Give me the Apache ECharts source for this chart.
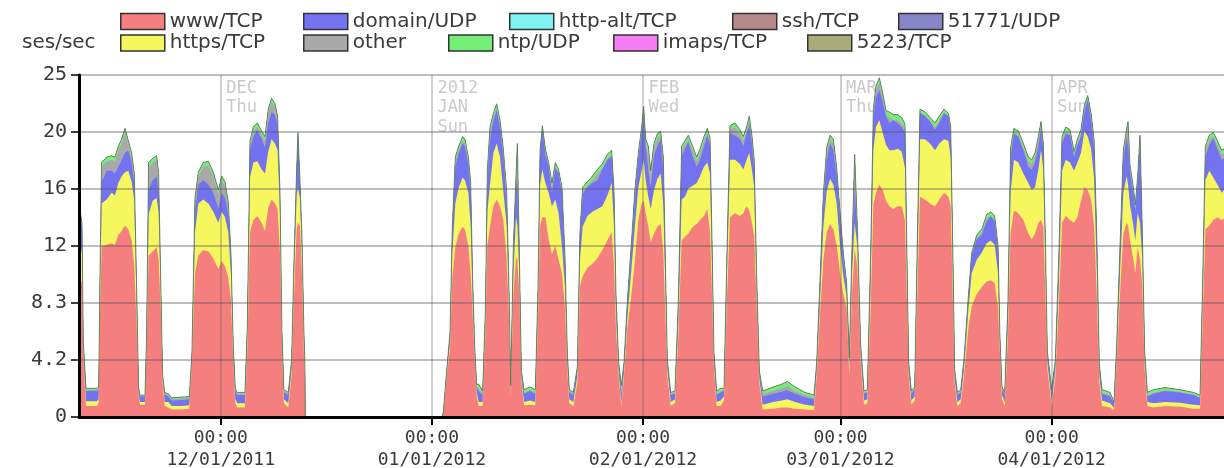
<!DOCTYPE html>
<html><head><meta charset="utf-8">
<script src="https://cdn.jsdelivr.net/npm/echarts@6/dist/echarts.min.js"></script>
<style>html,body{margin:0;padding:0;background:#fff}#c{width:1224px;height:468px}</style>
</head><body><div id="c"></div>
<script>
// x values: days since 2011-12-01 00:00
const days = [
-20.82,-20.38,-20.19,-19.8,-18.23,-17.93,-17.75,-17.5,-16.76,-16.03,
-15.54,-15.05,-14.56,-14.07,-13.58,-13.09,-12.7,-12.36,-12.07,-11.87,
-11.13,-10.89,-10.6,-10.01,-9.42,-9.13,-8.83,-8.54,-8.24,-7.7,
-7.21,-5.75,-4.62,-4.23,-3.79,-3.3,-2.57,-1.83,-1.1,-0.36,
0.13,0.62,1.1,1.49,1.84,2.13,2.42,3.55,3.9,4.29,
4.78,5.36,6.0,6.49,6.97,7.46,7.95,8.34,8.69,8.98,
9.27,9.91,10.4,10.74,11.13,11.33,11.62,11.92,12.21,12.35,
12.42,32.5,32.68,33.17,33.66,34.0,34.44,34.93,35.52,35.86,
36.35,36.69,36.99,37.28,37.57,37.87,38.45,38.85,39.14,39.53,
40.02,40.51,41.0,41.49,41.98,42.37,42.57,42.96,43.35,43.55,
43.84,44.14,44.53,45.41,46.19,46.58,46.88,47.22,47.66,48.14,
48.63,49.12,49.6,50.1,50.54,50.88,51.18,51.77,52.36,52.74,
53.14,53.83,54.56,55.3,56.03,56.76,57.4,57.74,58.03,58.42,
58.81,59.21,59.7,60.33,60.82,61.31,61.8,62.1,62.39,62.78,
63.13,63.61,64.1,64.59,64.98,65.28,65.57,66.06,66.69,67.19,
67.67,68.16,68.65,69.29,69.88,70.37,70.95,71.44,71.84,72.13,
72.42,72.81,73.4,73.89,74.28,74.77,75.51,76.23,76.73,77.21,
77.6,77.99,78.33,78.68,79.08,79.57,81.13,82.35,83.19,84.33,
85.79,87.11,87.5,87.99,88.48,88.97,89.46,89.95,90.44,90.93,
91.41,91.9,92.29,92.69,93.08,93.47,93.96,94.45,94.94,95.43,
95.82,96.21,96.7,97.19,97.68,98.17,98.76,99.39,99.98,100.47,
100.72,101.0,101.4,101.89,102.28,102.67,103.41,104.14,104.88,105.51,
106.2,106.84,107.18,107.47,107.76,108.16,108.65,109.14,109.77,110.26,
111.0,111.73,112.46,113.05,113.64,114.13,114.42,114.71,115.11,115.59,
115.98,116.47,117.11,117.85,118.58,119.07,119.56,120.05,120.44,120.78,
121.08,121.37,122.01,122.55,123.04,123.53,124.07,124.7,125.29,125.78,
126.31,126.81,127.3,127.79,128.23,128.62,129.01,129.4,130.58,131.16,
131.55,132.04,132.53,133.02,133.22,133.51,134.0,134.29,134.63,134.98,
135.32,135.66,136.06,136.94,138.65,140.85,142.81,143.79,144.18,144.57,
145.16,145.75,146.33,146.97,147.31
];
const wwwTCP = [
10.3,9.8,4.5,0.8,0.8,1.0,7,12.5,12.6,12.7,
12.6,13.3,13.6,14.0,13.7,12.9,11.0,6.6,1.5,0.9,
0.9,5.0,11.8,12.1,12.4,11.5,8.0,2.5,0.8,0.7,
0.55,0.55,0.6,4.0,10.5,11.8,12.2,12.1,11.6,10.8,
11.4,11.0,10.2,8.5,4.0,1.0,0.7,0.7,5.0,13.5,
14.4,14.7,14.2,13.6,15.3,15.9,15.6,15.2,12.0,5.0,
1.0,0.7,3.0,8.5,13.7,14.2,14.0,10.3,4.5,3.0,
0,0,0.3,2.9,5.0,10.2,12.4,13.4,13.9,13.7,
12.5,10.5,7.5,4.3,1.5,0.8,0.8,6.0,12.5,13.9,
15.4,15.9,15.4,14.4,11.5,6.5,1.5,9.0,11.7,11.5,
9.0,2.5,0.85,0.9,0.85,7.0,14.0,14.6,14.6,13.0,
11.9,12.5,11.5,10.5,8.0,3.5,1.0,0.8,2.5,9.5,
10.3,10.9,11.2,11.6,12.2,12.9,13.5,11.0,6.5,3.0,
0.8,3.0,6.5,9.1,11.5,14.4,15.6,15.8,14.9,13.9,
12.8,13.4,13.9,14.1,12.0,7.5,3.0,0.8,1.0,6.0,
12.9,13.2,13.4,13.9,14.1,14.4,14.7,15.2,13.5,9.0,
3.5,0.8,0.8,1.2,8.0,14.6,14.9,14.7,14.9,15.4,
15.1,14.2,13.2,8.0,2.5,0.55,0.6,0.7,0.7,0.6,
0.55,0.5,3.0,7.5,11.5,13.5,14.1,13.7,12.5,10.5,
9.0,8.0,3.0,9.0,12.3,11.0,4.0,0.9,1.0,8.0,
15.5,16.4,17.0,16.6,15.8,15.4,15.2,15.4,15.4,14.4,
9.0,3.0,0.9,1.2,9.0,16.1,15.9,15.6,15.4,15.9,
16.4,16.1,15.4,9.0,2.5,0.8,1.0,3.0,6.5,8.1,
9.0,9.5,9.9,10.0,9.8,8.0,4.5,1.3,0.8,6.0,
13.5,15.1,14.9,14.4,13.4,13.0,13.4,14.2,14.4,13.9,
9.0,3.5,0.8,3.0,8.0,14.2,14.7,14.4,14.2,14.6,
15.8,16.8,16.6,15.9,14.0,9.0,2.5,0.8,0.7,0.5,
4.0,9.0,13.4,14.2,14.0,12.9,11.5,10.5,12.4,11.5,
9.5,3.5,0.8,0.7,0.8,0.75,0.6,0.6,7.0,13.7,
14.0,14.4,14.6,14.4,14.5
];
const httpsTCP = [
2.7,2.2,0.5,0.35,0.35,0.3,1.5,3.1,3.3,3.7,
3.6,3.8,4.0,3.9,4.3,4.3,4.8,1.4,0.2,0.2,
0.2,0.5,3.0,3.7,3.6,3.5,1.5,0.3,0.3,0.4,
0.25,0.25,0.25,0.3,3.0,3.8,3.7,3.5,3.4,3.4,
3.6,3.6,3.3,2.0,0.5,0.3,0.3,0.3,1.0,4.0,
4.2,4.0,3.9,4.2,4.1,4.4,4.4,4.3,3.0,0.5,
0.3,0.3,0.5,1.5,2.5,2.6,2.0,1.7,1.0,0.5,
0,0,0,0.2,0.5,1.8,3.2,3.4,3.6,3.6,
3.9,3.5,1.0,0.3,0.3,0.3,0.3,1.0,2.5,3.1,
3.9,4.1,3.6,2.1,2.5,1.0,0.3,1.5,2.9,2.5,
1.5,0.3,0.25,0.3,0.25,1.0,3.0,3.5,2.5,3.4,
3.5,3.4,3.4,2.0,1.5,0.5,0.3,0.3,0.5,2.0,
3.6,3.8,3.8,3.6,3.2,3.3,3.6,3.0,1.0,0.3,
0.2,0.3,0.7,1.9,2.5,2.4,2.4,3.0,2.4,2.2,
2.4,3.2,3.5,3.7,3.5,2.0,0.5,0.3,0.3,1.0,
3.0,2.9,3.3,3.0,3.0,3.2,3.6,3.4,4.3,2.0,
0.5,0.3,0.4,0.3,1.5,4.2,3.9,3.8,3.2,3.4,
4.2,3.9,3.6,1.0,0.3,0.35,0.5,0.5,0.6,0.5,
0.35,0.3,0.4,1.0,2.4,3.0,3.3,3.3,3.1,2.0,
1.3,0.8,0.5,1.5,1.9,1.5,0.5,0.3,0.3,2.0,
4.0,4.8,4.7,4.2,4.1,4.1,4.3,4.2,4.0,3.8,
2.0,0.4,0.3,0.3,2.0,4.2,4.4,4.4,4.1,4.1,
3.9,4.1,3.6,2.0,0.3,0.3,0.3,0.5,1.3,2.4,
2.5,2.5,2.8,2.9,2.8,2.5,0.5,0.3,0.3,1.0,
3.0,3.7,3.7,3.4,3.7,3.6,3.4,3.9,5.1,4.2,
2.0,0.5,0.3,0.4,1.5,3.8,4.1,4.2,3.8,4.0,
3.5,4.1,3.9,3.7,3.5,2.0,0.5,0.4,0.3,0.2,
0.5,1.5,3.0,3.4,3.0,2.6,2.5,2.4,2.5,2.7,
2.0,0.5,0.3,0.3,0.3,0.3,0.3,0.25,1.5,3.6,
4.0,3.1,2.4,2.0,2.1
];
const domainUDP = [
2.4,2.0,0.5,0.75,0.75,0.7,0.8,1.6,2.1,1.6,
1.6,1.2,1.2,1.4,1.5,1.4,1.2,1.0,0.3,0.4,
0.4,0.5,1.8,1.5,1.6,1.5,0.5,0.2,0.5,0.4,
0.4,0.45,0.45,0.3,1.5,1.4,1.4,1.4,1.4,1.0,
1.4,1.4,1.3,1.0,0.5,0.6,0.6,0.6,0.5,2.0,
1.9,2.3,2.2,1.9,2.1,2.0,2.1,1.8,1.0,0.5,
0.5,0.6,0.5,1.0,1.3,3.7,1.0,0.8,0.5,0.5,
0,0,0.05,0.2,0.5,1.5,2.7,2.5,2.5,2.5,
2.0,2.2,1.0,0.4,0.4,0.8,0.5,0.5,2.0,3.2,
2.4,2.4,2.2,2.5,1.4,0.5,0.3,1.5,2.6,2.5,
1.0,0.4,0.6,0.7,0.6,1.0,2.0,2.9,2.1,1.9,
1.0,2.3,2.9,3.9,1.5,0.5,0.5,0.5,0.5,1.5,
2.4,2.1,2.1,2.1,2.7,2.6,1.9,2.0,1.0,0.5,
0.6,0.5,0.8,1.5,2.0,2.0,2.7,3.1,2.5,1.9,
1.6,2.5,2.4,2.5,2.5,1.5,0.5,0.5,0.4,1.0,
3.1,3.5,3.4,2.1,1.2,1.2,1.5,2.0,2.0,1.5,
0.5,0.5,0.6,0.4,1.0,1.9,1.8,1.8,1.7,1.9,
2.0,1.9,1.2,1.0,0.4,0.6,0.6,0.65,0.65,0.6,
0.55,0.5,0.4,1.0,1.6,2.2,2.6,2.5,2.0,2.0,
1.2,0.7,0.5,1.5,2.3,1.0,0.5,0.5,0.5,1.5,
2.3,2.2,2.2,2.2,2.1,2.0,2.2,1.9,1.8,2.6,
1.5,0.5,0.5,0.5,1.5,1.9,1.7,1.6,1.5,1.5,
1.9,1.8,1.8,1.5,0.5,0.5,0.5,0.5,0.7,1.3,
1.5,1.3,1.6,1.8,1.7,1.5,0.5,0.4,0.5,1.0,
2.5,1.9,1.9,1.7,1.2,1.5,1.8,1.7,1.6,1.4,
1.5,0.5,0.6,0.6,1.5,2.0,1.9,2.0,1.0,1.3,
1.2,1.4,2.7,2.1,2.1,2.0,0.5,0.5,0.5,0.3,
0.5,1.5,2.4,2.9,2.8,2.3,2.3,2.1,2.1,5.6,
1.5,0.5,0.4,0.7,0.8,0.75,0.7,0.55,1.0,1.7,
1.9,2.9,2.6,2.4,2.3
];
const otherTraffic = [
0.1,0.1,0.05,0.1,0.1,0.1,0.5,1.1,0.7,0.8,
0.9,1.2,1.2,1.5,0.4,0.4,0.5,0.3,0.1,0.05,
0.05,0.1,1.7,1.3,1.2,1.0,0.2,0.05,0.1,0.1,
0.1,0.1,0.1,0.1,0.8,0.6,1.0,1.4,1.2,1.1,
0.9,0.9,0.6,0.3,0.1,0.1,0.1,0.1,0.2,0.5,
0.4,0.2,0.3,0.5,0.7,0.7,0.5,0.4,0.3,0.2,
0.1,0.1,0.1,0.2,0.3,0.1,0.2,0.2,0.1,0.05,
0,0,0,0.05,0.1,0.3,0.4,0.2,0.2,0.2,
0.3,0.7,0.3,0.1,0.1,0.2,0.1,0.1,0.7,0.7,
0.2,0.2,0.2,0.3,0.8,0.1,0.1,0.3,0.1,3.2,
0.3,0.1,0.1,0.1,0.1,0.3,0.2,0.1,0.1,0.1,
0.4,0.1,0.1,0.1,0.5,0.1,0.1,0.1,0.1,0.3,
0.2,0.1,0.2,0.5,0.1,0.1,0.2,0.2,0.3,0.1,
0.4,0.1,0.3,0.3,0.4,0.2,0.2,0.5,0.2,1.2,
0.8,0.5,0.6,0.3,0.7,0.3,0.1,0.1,0.1,0.3,
0.5,0.3,0.2,0.5,0.4,0.5,0.4,0.2,0.3,0.3,
0.1,0.1,0.1,0.1,0.3,0.3,0.6,0.4,0.4,0.2,
0.4,0.3,0.5,0.3,0.1,0.2,0.2,0.25,0.3,0.2,
0.15,0.1,0.1,0.3,0.5,0.7,0.3,0.5,0.3,0.2,
0.3,0.1,0.1,0.3,2.4,0.3,0.1,0.1,0.1,0.3,
0.4,0.5,0.6,0.4,0.1,0.4,0.05,0.2,0.3,0.3,
0.3,0.1,0.1,0.1,0.3,0.05,0.05,0.05,0.2,0.2,
0.05,0,0.1,0.3,0.1,0.1,0.1,0.1,0.1,0,
0.1,0.2,0.2,0,0.1,0.3,0.1,0.1,0.1,0.3,
0.4,0.1,0.1,0.2,0.4,0.4,0.4,0.4,0.2,0.2,
0.3,0.1,0.1,0.1,0.3,0.2,0.2,0.1,0.1,0.1,
0.2,0.2,0.05,0.2,0.4,0.3,0.1,0.1,0.1,0.05,
0.1,0.3,0.4,0.3,1.5,0.3,0.2,0.2,0.3,0.5,
0.3,0.1,0.1,0.1,0.05,0.05,0.05,0.05,0.3,0.5,
0.4,0.1,0.3,0.4,0.4
];
const ntpUDP = [
0.1,0.1,0.05,0.1,0.1,0.1,0.2,0.3,0.3,0.3,
0.3,0.3,0.3,0.3,0.3,0.3,0.3,0.2,0.1,0.05,
0.05,0.1,0.3,0.3,0.3,0.3,0.1,0.05,0.1,0.1,
0.1,0.1,0.1,0.1,0.2,0.3,0.3,0.3,0.3,0.3,
0.3,0.3,0.3,0.2,0.1,0.1,0.1,0.1,0.1,0.2,
0.3,0.3,0.3,0.3,0.3,0.3,0.3,0.3,0.2,0.1,
0.1,0.1,0.1,0.1,0.2,0.2,0.2,0.2,0.1,0.05,
0,0,0.05,0.05,0.1,0.2,0.3,0.3,0.3,0.3,
0.3,0.3,0.2,0.1,0.1,0.3,0.2,0.2,0.3,0.3,
0.3,0.3,0.3,0.3,0.3,0.2,0.1,0.2,0.3,0.3,
0.2,0.1,0.2,0.2,0.2,0.2,0.3,0.2,0.3,0.2,
0.3,0.3,0.2,0.3,0.3,0.2,0.1,0.1,0.1,0.2,
0.3,0.3,0.3,0.3,0.3,0.3,0.3,0.3,0.2,0.1,
0.3,0.1,0.2,0.2,0.3,0.3,0.3,0.3,0.3,0.6,
0.4,0.4,0.3,0.3,0.3,0.2,0.1,0.1,0.1,0.2,
0.3,0.3,0.3,0.3,0.3,0.3,0.3,0.3,0.3,0.2,
0.1,0.2,0.2,0.1,0.2,0.3,0.3,0.3,0.3,0.3,
0.3,0.3,0.3,0.2,0.1,0.2,0.3,0.3,0.35,0.3,
0.2,0.2,0.1,0.2,0.3,0.3,0.3,0.3,0.3,0.3,
0.2,0.2,0.2,0.2,0.3,0.2,0.2,0.1,0.1,0.2,
0.3,0.3,0.3,0.3,0.3,0.4,0.35,0.4,0.4,0.3,
0.2,0.1,0.1,0.1,0.2,0.25,0.25,0.25,0.3,0.3,
0.25,0.2,0.3,0.2,0.1,0.1,0.1,0.2,0.2,0.2,
0.2,0.2,0.3,0.3,0.3,0.2,0.2,0.1,0.1,0.2,
0.3,0.3,0.3,0.3,0.3,0.3,0.3,0.3,0.3,0.3,
0.2,0.2,0.2,0.1,0.2,0.3,0.3,0.3,0.3,0.3,
0.3,0.3,0.25,0.3,0.3,0.2,0.2,0.2,0.2,0.05,
0.2,0.2,0.3,0.3,0.3,0.3,0.3,0.3,0.3,0.3,
0.2,0.2,0.2,0.2,0.2,0.15,0.15,0.15,0.2,0.3,
0.3,0.3,0.3,0.3,0.3
];
// the remaining five services are too thin to see in the picture: read as ~0 everywhere
const minorServicesNearZero = [
0,0,0,0,0,0,0,0,0,0, 0,0,0,0,0,0,0,0,0,0, 0,0,0,0,0,0,0,0,0,0,
0,0,0,0,0,0,0,0,0,0, 0,0,0,0,0,0,0,0,0,0, 0,0,0,0,0,0,0,0,0,0,
0,0,0,0,0,0,0,0,0,0, 0,0,0,0,0,0,0,0,0,0, 0,0,0,0,0,0,0,0,0,0,
0,0,0,0,0,0,0,0,0,0, 0,0,0,0,0,0,0,0,0,0, 0,0,0,0,0,0,0,0,0,0,
0,0,0,0,0,0,0,0,0,0, 0,0,0,0,0,0,0,0,0,0, 0,0,0,0,0,0,0,0,0,0,
0,0,0,0,0,0,0,0,0,0, 0,0,0,0,0,0,0,0,0,0, 0,0,0,0,0,0,0,0,0,0,
0,0,0,0,0,0,0,0,0,0, 0,0,0,0,0,0,0,0,0,0, 0,0,0,0,0,0,0,0,0,0,
0,0,0,0,0,0,0,0,0,0, 0,0,0,0,0,0,0,0,0,0, 0,0,0,0,0,0,0,0,0,0,
0,0,0,0,0,0,0,0,0,0, 0,0,0,0,0,0,0,0,0,0, 0,0,0,0,0,0,0,0,0,0,
0,0,0,0,0,0,0,0,0,0, 0,0,0,0,0,0,0,0,0,0, 0,0,0,0,0
];

const monthDays = [0, 31, 62, 91, 122];
const xTickLabels = ['00:00\n12/01/2011','00:00\n01/01/2012','00:00\n02/01/2012','00:00\n03/01/2012','00:00\n04/01/2012'];
const monthMarks = ['DEC\nThu','2012\nJAN\nSun','FEB\nWed','MAR\nThu','APR\nSun'];
const yTickLabels = ['0','4.2','8.3','12','16','20','25'];
// stacking order, bottom to top
const stackNames = ['www/TCP','https/TCP','domain/UDP','other','http-alt/TCP','ntp/UDP','ssh/TCP','imaps/TCP','51771/UDP','5223/TCP'];
const stackValues = [wwwTCP, httpsTCP, domainUDP, otherTraffic, minorServicesNearZero, ntpUDP, minorServicesNearZero, minorServicesNearZero, minorServicesNearZero, minorServicesNearZero];

// styling
const seriesColors = {
  'www/TCP':'#f57f7f','https/TCP':'#f6f65e','domain/UDP':'#7373f2','other':'#a9a9a9',
  'http-alt/TCP':'#7ff2f2','ntp/UDP':'#74ee74','ssh/TCP':'#b58a8a','imaps/TCP':'#f47df4',
  '51771/UDP':'#8686c8','5223/TCP':'#abab79'
};
const legendSpots = [
  ['www/TCP',120,11.5],['domain/UDP',303,11.5],['http-alt/TCP',509,11.5],['ssh/TCP',732,11.5],['51771/UDP',898,11.5],
  ['https/TCP',120,33],['other',303,33],['ntp/UDP',448,33],['imaps/TCP',613,33],['5223/TCP',807,33]
];

// cumulative tops of the stack (each layer is filled from the axis up to its own top,
// lower layers drawn over upper ones)
let running = days.map(() => 0);
const stackTops = stackNames.map((n, i) => {
  running = running.map((r, k) => r + (stackValues[i][k] || 0));
  return running.map(v => Math.round(v * 1000) / 1000);
});

const chart = echarts.init(document.getElementById('c'), null, {renderer:'canvas'});
const gridColor = 'rgba(85,85,85,0.38)';
const areaSeries = stackNames.map((n, i) => ({
  name:n, type:'line', symbol:'none', silent:true, z:2,
  lineStyle: n === 'ntp/UDP' ? {width:1, color:'rgba(80,115,75,0.75)'} : {width:0},
  itemStyle:{color:seriesColors[n]},
  areaStyle:{color:seriesColors[n], opacity:1, origin:'start'},
  data: days.map((d, k) => [d, stackTops[i][k]])
})).reverse();

const option = {
  animation: false,
  backgroundColor: '#ffffff',
  title: {text:'ses/sec', left:22, top:33, padding:0,
    textStyle:{fontFamily:'DejaVu Sans', fontSize:20, fontWeight:'normal', color:'#3a3a3a'}},
  legend: legendSpots.map(([n, l, t]) => ({
    data:[n], left:l, top:t, padding:0, itemWidth:44, itemHeight:16, itemGap:0,
    icon:'rect', selectedMode:false,
    itemStyle:{borderColor:'#333', borderWidth:1.5},
    textStyle:{fontFamily:'DejaVu Sans', fontSize:20, color:'#3a3a3a'}
  })),
  grid: {left:79, right:0, top:75, bottom:51, containLabel:false, outerBoundsMode:'none'},
  xAxis: {
    type:'value', min:-20.82, max:147.31, z:5,
    axisLine:{show:true, onZero:false, lineStyle:{color:'#000', width:3}},
    axisTick:{show:true, customValues:monthDays, length:8, lineStyle:{color:'#000', width:2}},
    axisLabel:{show:true, customValues:monthDays, margin:10,
      formatter:(v) => { const i = monthDays.indexOf(Math.round(v)); return i >= 0 ? xTickLabels[i] : ''; },
      fontFamily:'DejaVu Sans Mono', fontSize:18, lineHeight:22, color:'#3a3a3a'},
    splitLine:{show:true, lineStyle:{color:gridColor, width:1.5}},
    minorTick:{show:false}
  },
  yAxis: {
    type:'value', min:0, max:25, interval:25/6, z:5,
    axisLine:{show:true, onZero:false, lineStyle:{color:'#000', width:3}},
    axisTick:{show:true, length:8, lineStyle:{color:'#000', width:1.5}},
    axisLabel:{margin:12, fontFamily:'DejaVu Sans Mono', fontSize:20, color:'#3a3a3a',
      formatter:(v) => yTickLabels[Math.round(v * 6 / 25)]},
    splitLine:{show:true, lineStyle:{color:gridColor, width:2}}
  },
  series: areaSeries.concat([{
    type:'scatter', silent:true, z:1, clip:false, symbolSize:1,
    itemStyle:{color:'rgba(0,0,0,0)'},
    label:{show:true, position:[6,4], align:'left', verticalAlign:'top',
      fontFamily:'DejaVu Sans Mono', fontSize:17, lineHeight:19.5, color:'#bcbcbc',
      formatter:(p) => monthMarks[p.dataIndex]},
    data: monthDays.map(d => [d, 25])
  }])
};
chart.setOption(option);
</script>
</body></html>
